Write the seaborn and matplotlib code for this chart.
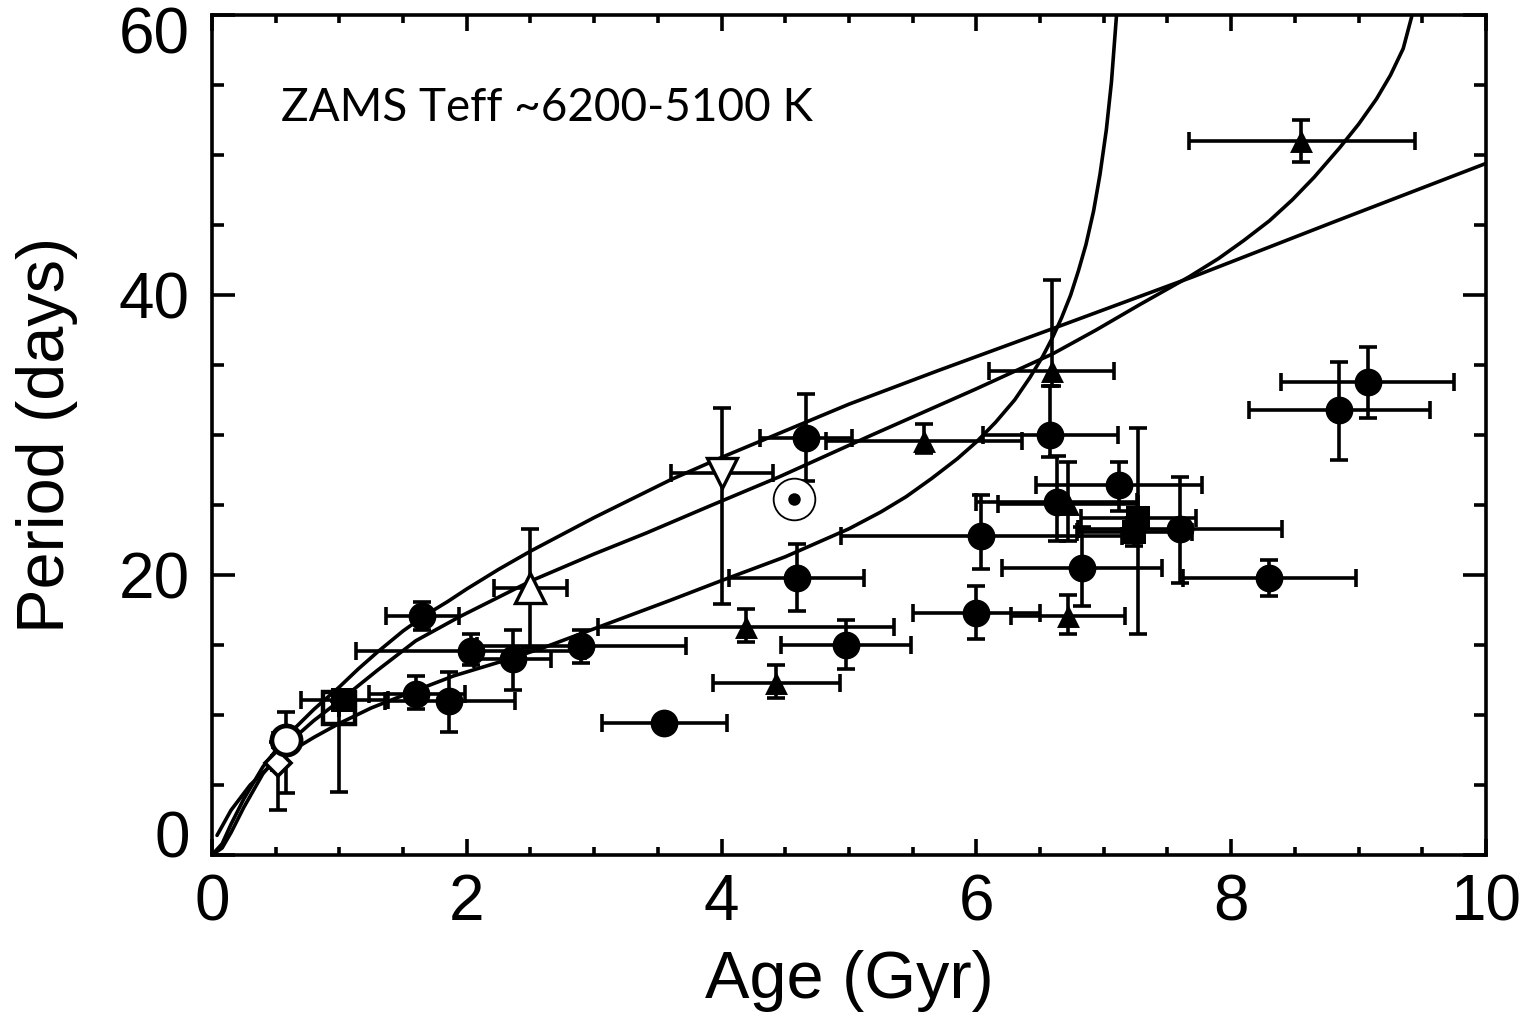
import numpy as np
import pandas as pd
import matplotlib
matplotlib.use('Agg')
import matplotlib.pyplot as plt
import matplotlib.transforms as mtransforms
from matplotlib.ticker import MultipleLocator, FixedLocator
import seaborn as sns

# ---------------- model curves ----------------
A_age = [0.0, 0.08, 0.15, 0.25, 0.4, 0.6, 0.8, 1.0, 1.15, 1.3, 1.5, 1.67, 1.85, 2.0, 2.25, 2.5, 3.0, 3.6, 4.0, 4.5, 5.0, 5.7, 6.6, 7.7, 8.8, 10.0]
A_per = [0.0, 0.8, 2.2, 4.0, 6.3, 8.6, 10.4, 12.0, 13.3, 14.5, 16.0, 17.1, 18.1, 19.0, 20.4, 21.7, 24.1, 26.8, 28.4, 30.3, 32.2, 34.6, 37.6, 41.3, 45.2, 49.4]

B_age = [0.0, 0.08, 0.15, 0.25, 0.4, 0.6, 0.8, 1.0, 1.3, 1.6, 1.94, 2.51, 3.0, 3.41, 3.9, 4.45, 5.18, 6.0, 6.6, 6.94, 7.28, 7.67, 7.9, 8.1, 8.3, 8.48, 8.65, 8.85, 9.0, 9.14, 9.25, 9.35, 9.42]
B_per = [0.0, 0.5, 1.6, 3.4, 5.8, 8.0, 9.6, 11.0, 13.2, 15.3, 17.0, 19.6, 21.5, 23.0, 24.9, 27.0, 30.0, 33.3, 35.8, 37.5, 39.3, 41.3, 42.6, 43.9, 45.3, 46.8, 48.4, 50.5, 52.2, 54.0, 55.7, 57.6, 60.0]

C_age = [0.04, 0.15, 0.3, 0.45, 0.6, 0.8, 1.0, 1.25, 1.5, 1.9, 2.3, 2.6, 3.1, 3.6, 4.0, 4.5, 5.0, 5.25, 5.45, 5.65, 5.85, 6.0, 6.15, 6.3, 6.42, 6.52, 6.6, 6.67, 6.74, 6.8, 6.86, 6.92, 6.97, 7.02, 7.06, 7.1]
C_per = [1.4, 3.2, 5.0, 6.3, 7.3, 8.4, 9.4, 10.5, 11.4, 12.8, 13.9, 14.8, 16.5, 18.2, 19.6, 21.3, 23.3, 24.5, 25.6, 26.9, 28.3, 29.5, 30.9, 32.5, 34.1, 35.6, 37.0, 38.4, 40.0, 41.7, 43.6, 46.0, 48.6, 51.8, 55.2, 60.0]

# ---------------- filled circles ----------------
circ_age  = [1.65, 2.03, 2.36, 2.90, 1.60, 1.86, 4.66, 6.58, 6.63, 7.12, 7.60, 6.04, 6.83, 8.30, 6.00, 8.85, 9.07, 4.59, 4.98, 3.55]
circ_per  = [17.1, 14.6, 14.0, 14.9, 11.5, 11.0, 29.8, 30.0, 25.2, 26.4, 23.3, 22.8, 20.5, 19.8, 17.3, 31.8, 33.8, 19.8, 15.0, 9.4]
circ_xlo  = [0.28, 0.90, 0.30, 0.82, 0.37, 0.50, 0.36, 0.53, 0.63, 0.65, 0.80, 1.10, 0.63, 0.68, 0.50, 0.71, 0.68, 0.53, 0.51, 0.49]
circ_xhi  = [0.29, 0.90, 0.30, 0.82, 0.39, 0.52, 0.36, 0.53, 0.63, 0.65, 0.80, 1.10, 0.63, 0.68, 0.50, 0.71, 0.68, 0.53, 0.51, 0.49]
circ_ylo  = [1.0, 1.0, 2.2, 1.2, 1.1, 2.2, 3.1, 1.6, 2.8, 1.8, 3.9, 2.4, 2.7, 1.3, 1.9, 3.6, 2.6, 2.4, 1.7, 0.3]
circ_yhi  = [1.0, 1.2, 2.1, 1.2, 1.3, 2.1, 3.1, 3.5, 3.3, 1.7, 3.7, 2.9, 2.9, 1.3, 1.9, 3.4, 2.5, 2.4, 1.8, 0.3]

# ---------------- filled triangles ----------------
tri_age = [5.59, 6.59, 6.72, 6.72, 8.55, 4.19, 4.43]
tri_per = [29.6, 34.6, 25.1, 17.1, 51.0, 16.3, 12.3]
tri_xlo = [0.77, 0.49, 0.55, 0.45, 0.88, 1.16, 0.50]
tri_xhi = [0.77, 0.49, 0.55, 0.45, 0.89, 1.16, 0.50]
tri_ylo = [0.9, 1.1, 2.7, 1.3, 1.5, 1.1, 1.1]
tri_yhi = [1.2, 6.5, 3.0, 1.5, 1.5, 1.3, 1.3]

# ---------------- filled squares ----------------
sq_age = [7.27, 7.24, 1.03]
sq_per = [24.1, 23.1, 11.1]
sq_xlo = [0.45, 0.45, 0.33]
sq_xhi = [0.45, 0.45, 0.35]
sq_ylo = [8.3, 1.0, 0.6]
sq_yhi = [6.4, 1.0, 0.6]

# ---------------- open symbols ----------------
osq_age, osq_per, osq_xerr, osq_ylo, osq_yhi = [1.00], [10.5], [0.0], [6.0], [0.5]
ocirc_age, ocirc_per, ocirc_xerr, ocirc_ylo, ocirc_yhi = [0.58], [8.2], [0.10], [3.8], [2.0]
odia_age, odia_per, odia_xerr, odia_ylo, odia_yhi = [0.52], [6.6], [0.05], [3.4], [1.5]
otri_age, otri_per, otri_xerr, otri_ylo, otri_yhi = [2.50], [19.1], [0.29], [4.3], [4.2]
odtri_age, odtri_per, odtri_xerr, odtri_ylo, odtri_yhi = [4.00], [27.3], [0.40], [9.4], [4.6]
sun_age, sun_per = [4.57], [25.4]

x_ticks = [0, 2, 4, 6, 8, 10]
y_ticks = [0, 20, 40, 60]
x_label = "Age (Gyr)"
y_label = "Period (days)"
annotation = "ZAMS Teff ~6200-5100 K"

# ---------------- figure ----------------
sns.set_theme(style='ticks')
plt.rcParams['font.family'] = ['Liberation Sans', 'DejaVu Sans']
for k in ['axes.edgecolor', 'xtick.color', 'ytick.color', 'text.color',
          'axes.labelcolor', 'xtick.labelcolor', 'ytick.labelcolor']:
    plt.rcParams[k] = 'black'

fig = plt.figure(figsize=(15.38, 10.27), dpi=100)
ax = fig.add_axes([0.1378, 0.1675, 0.8284, 0.8179])

LW = 2.6
for xs, ys in [(A_age, A_per), (B_age, B_per), (C_age, C_per)]:
    sns.lineplot(x=xs, y=ys, sort=False, estimator=None, color='black',
                 linewidth=LW, ax=ax, zorder=2)

eb = dict(fmt='none', ecolor='black', elinewidth=LW, capsize=6.2, capthick=LW, zorder=3)
ax.errorbar(circ_age, circ_per, xerr=[circ_xlo, circ_xhi], yerr=[circ_ylo, circ_yhi], **eb)
ax.errorbar(tri_age, tri_per, xerr=[tri_xlo, tri_xhi], yerr=[tri_ylo, tri_yhi], **eb)
ax.errorbar(sq_age, sq_per, xerr=[sq_xlo, sq_xhi], yerr=[sq_ylo, sq_yhi], **eb)
ax.errorbar(osq_age, osq_per, xerr=osq_xerr, yerr=[osq_ylo, osq_yhi], **eb)
ax.errorbar(ocirc_age, ocirc_per, xerr=ocirc_xerr, yerr=[ocirc_ylo, ocirc_yhi], **eb)
ax.errorbar(odia_age, odia_per, xerr=odia_xerr, yerr=[odia_ylo, odia_yhi], **eb)
ax.errorbar(otri_age, otri_per, xerr=otri_xerr, yerr=[otri_ylo, otri_yhi], **eb)
ax.errorbar(odtri_age, odtri_per, xerr=odtri_xerr, yerr=[odtri_ylo, odtri_yhi], **eb)

# filled markers
sns.scatterplot(x=circ_age, y=circ_per, marker='o', s=20**2, color='black',
                edgecolor='black', linewidth=0, ax=ax, zorder=5)
sns.scatterplot(x=tri_age, y=tri_per, marker='^', s=16.5**2, color='black',
                edgecolor='black', linewidth=0, ax=ax, zorder=5)
sns.scatterplot(x=sq_age, y=sq_per, marker='s', s=17**2, color='black',
                edgecolor='black', linewidth=0, ax=ax, zorder=5)

# open markers
ax.plot(osq_age, osq_per, 's', ms=23, mfc='none', mec='black', mew=3.2, zorder=4)
ax.plot(odia_age, odia_per, 'D', ms=13, mfc='white', mec='black', mew=2.6, zorder=5)
ax.plot(ocirc_age, ocirc_per, 'o', ms=21, mfc='white', mec='black', mew=3.4, zorder=6)
ax.plot(otri_age, otri_per, '^', ms=22, mfc='white', mec='black', mew=2.4, zorder=6)
ax.plot(odtri_age, odtri_per, 'v', ms=22, mfc='white', mec='black', mew=2.4, zorder=6)
ax.plot(sun_age, sun_per, 'o', ms=30, mfc='white', mec='black', mew=1.3, zorder=6)
ax.plot(sun_age, sun_per, 'o', ms=9, mfc='black', mec='black', mew=0, zorder=7)

ax.text(0.54, 52.4, annotation, fontsize=33, family=['Lato', 'DejaVu Sans'],
        ha='left', va='baseline', color='black')

ax.set_xlim(0, 10)
ax.set_ylim(0, 60)
ax.xaxis.set_major_locator(FixedLocator(x_ticks))
ax.xaxis.set_minor_locator(MultipleLocator(0.5))
ax.yaxis.set_major_locator(FixedLocator(y_ticks))
ax.yaxis.set_minor_locator(MultipleLocator(5))
ax.set_xticklabels([str(t) for t in x_ticks])
ax.set_yticklabels([str(t) for t in y_ticks])

ax.tick_params(which='both', direction='in', top=True, right=True, width=LW,
               color='black', labelcolor='black')
ax.tick_params(axis='x', which='major', length=11.5, pad=13, labelsize=46)
ax.tick_params(axis='x', which='minor', length=5.8)
ax.tick_params(axis='y', which='major', length=16.5, pad=16, labelsize=46)
ax.tick_params(axis='y', which='minor', length=8.6)
for sp in ax.spines.values():
    sp.set_linewidth(LW)
    sp.set_color('black')

ax.set_xlabel(x_label, fontsize=48, color='black')
ax.set_ylabel(y_label, fontsize=48, color='black')
ax.xaxis.set_label_coords(0.5, -0.113)
ax.yaxis.set_label_coords(-0.105, 0.5)

# IDL-like shift of the end labels on the y axis
ylabels = ax.get_yticklabels()
ylabels[0].set_transform(ylabels[0].get_transform() +
                         mtransforms.ScaledTranslation(0, 0.21, fig.dpi_scale_trans))
ylabels[-1].set_transform(ylabels[-1].get_transform() +
                          mtransforms.ScaledTranslation(0, -0.15, fig.dpi_scale_trans))

ax.set_facecolor('white')
fig.patch.set_facecolor('white')
fig.savefig('out.png', dpi=100, facecolor='white')
